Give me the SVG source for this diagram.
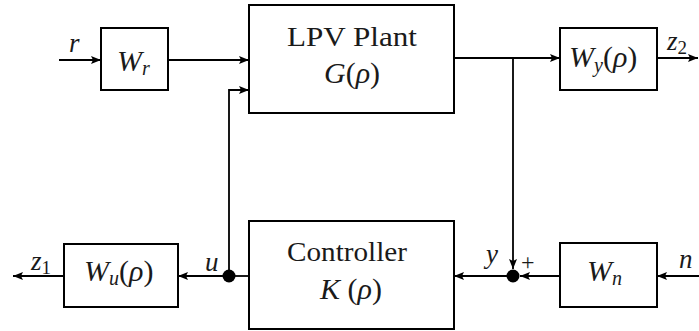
<svg xmlns="http://www.w3.org/2000/svg" width="699" height="331" viewBox="0 0 699 331">
<style>
.box{fill:#fff;stroke:#000;stroke-width:2}
.ln{fill:none;stroke:#000;stroke-width:1.8}
</style>
<defs>
<marker id="ah" viewBox="0 0 10 8" refX="10" refY="4" markerWidth="10" markerHeight="8" markerUnits="userSpaceOnUse" orient="auto">
<path d="M0,0 L10,4 L0,8 L2,4 Z" fill="#000"/>
</marker>
</defs>
<g id="connectors">
<line class="ln" x1="59" y1="60" x2="101" y2="60" marker-end="url(#ah)"/>
<line class="ln" x1="168" y1="60" x2="249" y2="60" marker-end="url(#ah)"/>
<polyline class="ln" points="229,276 229,90 249,90" marker-end="url(#ah)"/>
<line class="ln" x1="454" y1="58" x2="560" y2="58" marker-end="url(#ah)"/>
<line class="ln" x1="657" y1="58" x2="698" y2="58" marker-end="url(#ah)"/>
<line class="ln" x1="513" y1="58" x2="513" y2="269" marker-end="url(#ah)"/>
<line class="ln" x1="699" y1="276" x2="657" y2="276" marker-end="url(#ah)"/>
<line class="ln" x1="560" y1="276" x2="520" y2="276" marker-end="url(#ah)"/>
<line class="ln" x1="507" y1="276" x2="454" y2="276" marker-end="url(#ah)"/>
<line class="ln" x1="249" y1="276" x2="229" y2="276"/>
<line class="ln" x1="229" y1="276" x2="178" y2="276" marker-end="url(#ah)"/>
<line class="ln" x1="64" y1="276" x2="13" y2="276" marker-end="url(#ah)"/>
<circle cx="229" cy="276" r="6.5" fill="#000"/>
<circle cx="513" cy="276" r="6.5" fill="#000"/>
<text x="69" y="52" font-family="Liberation Serif" font-style="italic" font-size="27" fill="#1a1a1a">r</text>
<text x="667" y="50" font-family="Liberation Serif" font-style="italic" font-size="27" fill="#1a1a1a">z<tspan font-style="normal" font-size="19" dy="4">2</tspan></text>
<text x="31" y="270" font-family="Liberation Serif" font-style="italic" font-size="27" fill="#1a1a1a">z<tspan font-style="normal" font-size="19" dy="4">1</tspan></text>
<text x="205" y="271" font-family="Liberation Serif" font-style="italic" font-size="27" fill="#1a1a1a">u</text>
<text x="486" y="263" font-family="Liberation Serif" font-style="italic" font-size="27" fill="#1a1a1a">y</text>
<text x="521" y="270" font-family="Liberation Serif" font-size="24" fill="#1a1a1a">+</text>
<text x="679" y="268" font-family="Liberation Serif" font-style="italic" font-size="27" fill="#1a1a1a">n</text>
</g>
<g id="Wr">
<rect class="box" x="101" y="28" width="67" height="62"/>
<text x="117" y="71" font-family="Liberation Serif" font-style="italic" font-size="30" fill="#1a1a1a">W<tspan font-size="20" dy="4">r</tspan></text>
</g>
<g id="plant">
<rect class="box" x="249" y="5" width="205" height="108"/>
<text x="352" y="46" text-anchor="middle" font-family="Liberation Serif" font-size="27" fill="#1a1a1a" textLength="130" lengthAdjust="spacingAndGlyphs">LPV Plant</text>
<text x="352" y="83" text-anchor="middle" font-family="Liberation Serif" font-style="italic" font-size="30" fill="#1a1a1a">G<tspan font-style="normal">(</tspan>ρ<tspan font-style="normal">)</tspan></text>
</g>
<g id="Wy">
<rect class="box" x="560" y="28" width="97" height="62"/>
<text x="569" y="67" font-family="Liberation Serif" font-style="italic" font-size="30" fill="#1a1a1a">W<tspan font-size="20" dy="5">y</tspan><tspan font-style="normal" dy="-5">(</tspan>ρ<tspan font-style="normal">)</tspan></text>
</g>
<g id="controller">
<rect class="box" x="249" y="221" width="205" height="108"/>
<text x="347" y="261" text-anchor="middle" font-family="Liberation Serif" font-size="27" fill="#1a1a1a" textLength="120" lengthAdjust="spacingAndGlyphs">Controller</text>
<text x="351" y="299" text-anchor="middle" font-family="Liberation Serif" font-style="italic" font-size="30" fill="#1a1a1a">K<tspan font-style="normal"> (</tspan>ρ<tspan font-style="normal">)</tspan></text>
</g>
<g id="Wu">
<rect class="box" x="64" y="244" width="114" height="63"/>
<text x="84" y="281" font-family="Liberation Serif" font-style="italic" font-size="30" fill="#1a1a1a">W<tspan font-size="20" dy="4">u</tspan><tspan font-style="normal" dy="-4">(</tspan>ρ<tspan font-style="normal">)</tspan></text>
</g>
<g id="Wn">
<rect class="box" x="560" y="243" width="97" height="64"/>
<text x="587" y="281" font-family="Liberation Serif" font-style="italic" font-size="30" fill="#1a1a1a">W<tspan font-size="20" dy="4">n</tspan></text>
</g>
</svg>
